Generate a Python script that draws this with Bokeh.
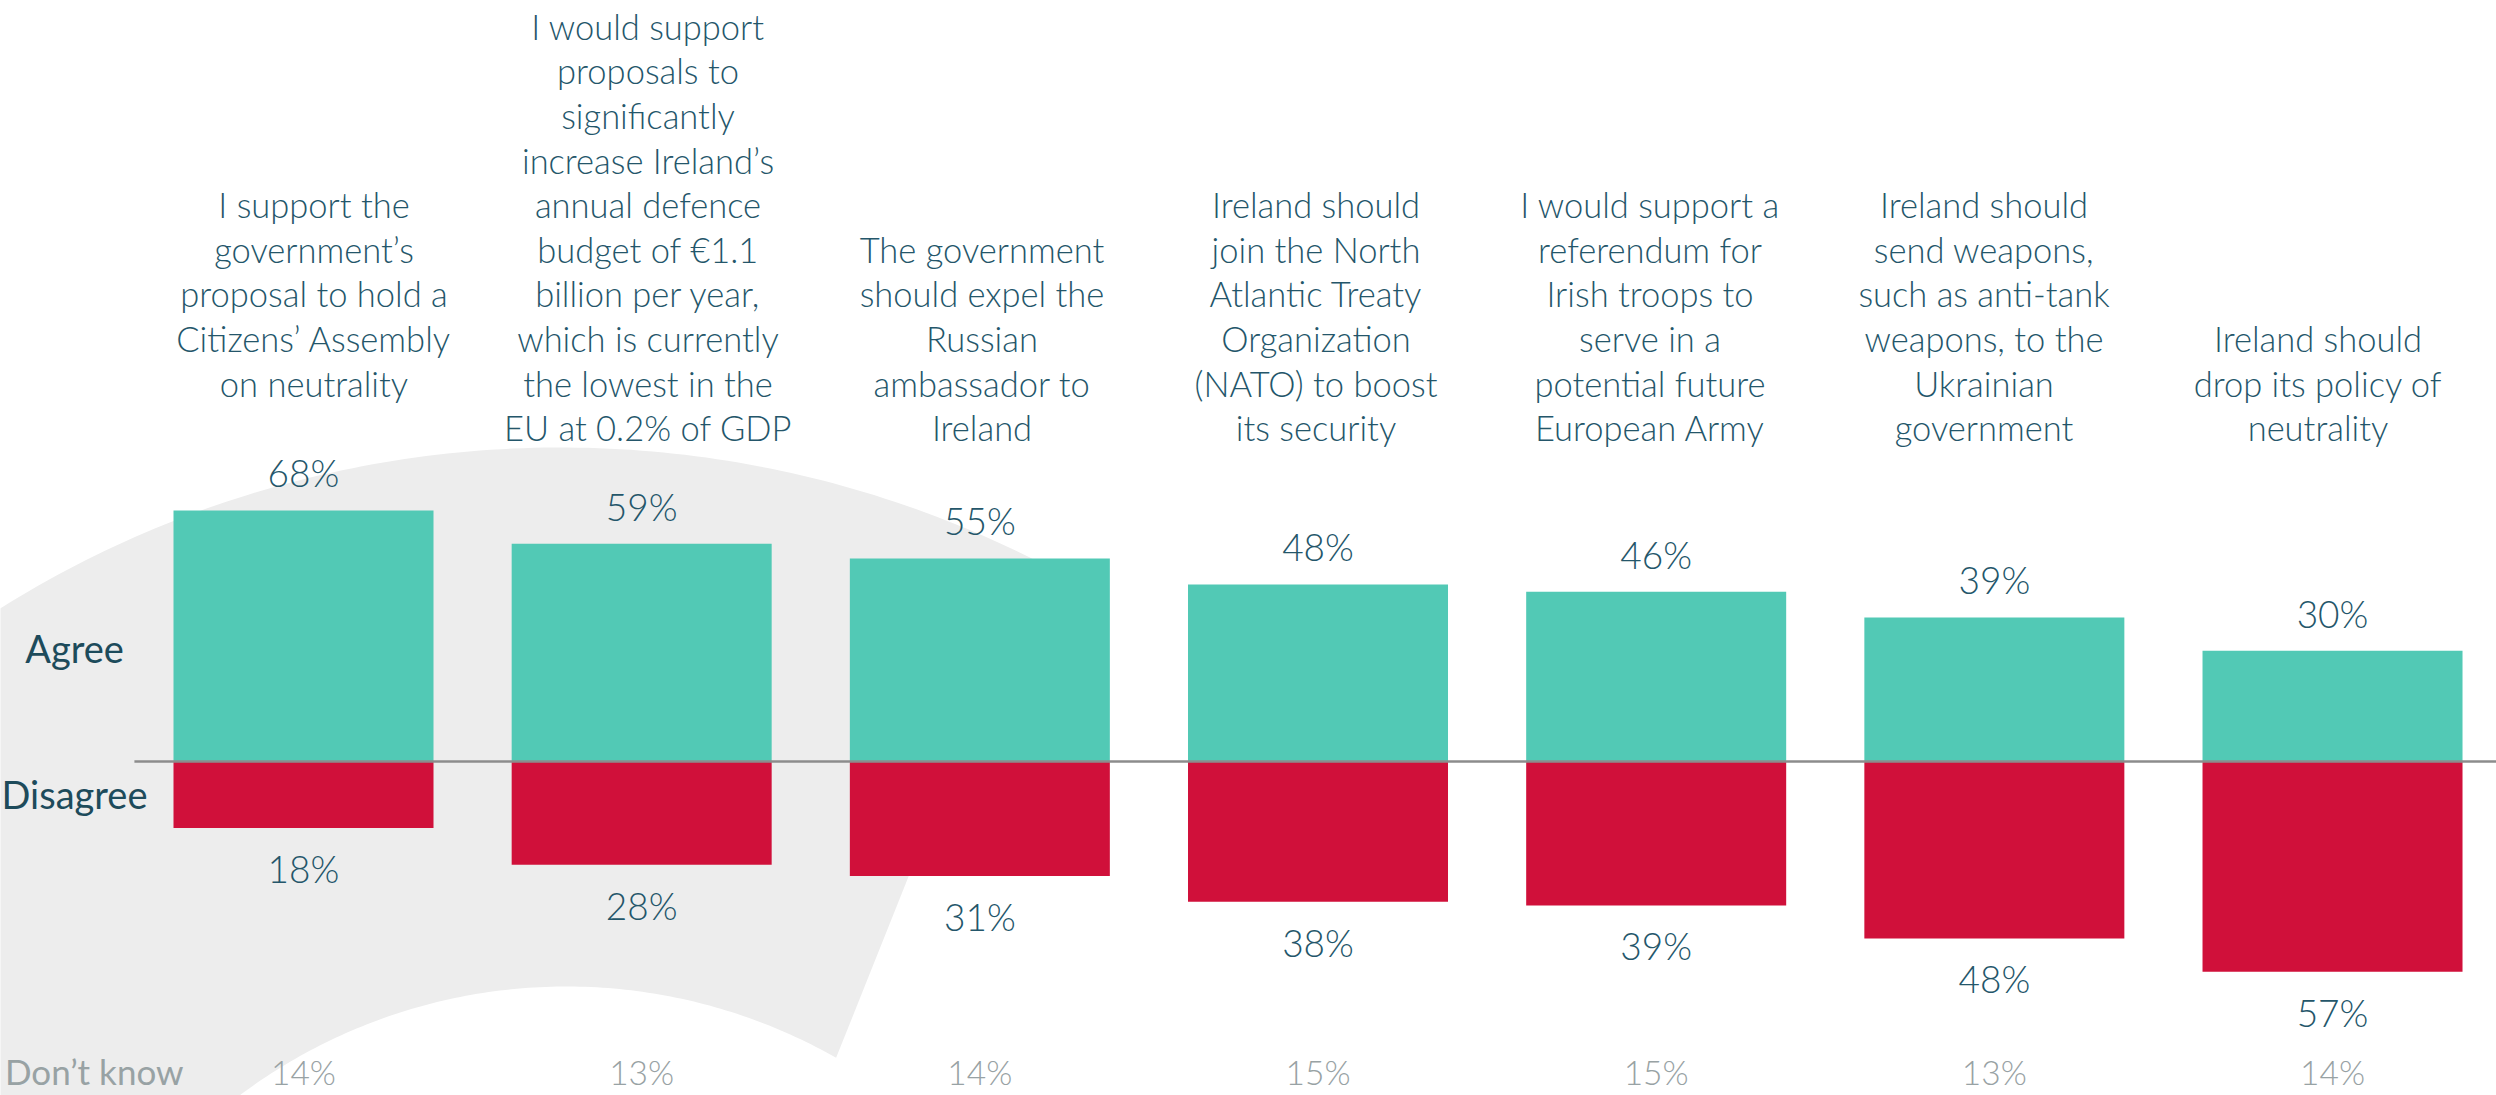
import numpy as np
from bokeh.plotting import figure
from bokeh.models import Range1d, ColumnDataSource
from bokeh.core.properties import value
from bokeh.embed import file_html
from bokeh.resources import INLINE

# ---------------- data ----------------
questions = [
    "I support the\ngovernment’s\nproposal to hold a\nCitizens’ Assembly\non neutrality",
    "I would support\nproposals to\nsignificantly\nincrease Ireland’s\nannual defence\nbudget of €1.1\nbillion per year,\nwhich is currently\nthe lowest in the\nEU at 0.2% of GDP",
    "The government\nshould expel the\nRussian\nambassador to\nIreland",
    "Ireland should\njoin the North\nAtlantic Treaty\nOrganization\n(NATO) to boost\nits security",
    "I would support a\nreferendum for\nIrish troops to\nserve in a\npotential future\nEuropean Army",
    "Ireland should\nsend weapons,\nsuch as anti-tank\nweapons, to the\nUkrainian\ngovernment",
    "Ireland should\ndrop its policy of\nneutrality",
]
agree = [68, 59, 55, 48, 46, 39, 30]
disagree = [18, 28, 31, 38, 39, 48, 57]
dont_know = [14, 13, 14, 15, 15, 13, 14]
row_labels = ["Agree", "Disagree", "Don’t know"]

# ---------------- layout / style ----------------
W, H = 2496, 1095
MARGIN = 0
CAT0 = 303.0        # page x of first category centre
STEP = 338.17       # page px per category
Q0, QSTEP = 313.5, 334.0   # page x of question-text columns
ZERO = 761.0        # page y of the zero line
PPP = 3.69          # page px per percentage point
LINE = 44.6         # question line spacing (px)
q_lift = [1, 0, 0, 0, 0, 0, 0]   # question block raised by n lines
BASE_K = 0.37       # baseline correction (fraction of font size)

TEAL = "#52C9B5"
RED = "#D0103A"
TXT = "#24566A"
DARK = "#1D4B5B"
GREY_TXT = "#98A2A4"
BG_SHAPE = "#EDEDED"
LIGHT = value("'Lato Light', Lato")
REG = value("Lato")

FS_Q, FS_V, FS_DK, FS_ROW, FS_DKL = 34.5, 37, 33.5, 38, 35


def dx(px):
    return (px - CAT0) / STEP


def dy(py):
    return (ZERO - py) / PPP


def base(py, fs):
    """data y for a text whose baseline should sit at page y=py"""
    return dy(py - BASE_K * fs)


p = figure(width=W, height=H, output_backend="svg", toolbar_location=None,
           x_axis_location=None, y_axis_location=None, min_border=0,
           x_range=Range1d(dx(MARGIN), dx(MARGIN + W)),
           y_range=Range1d(dy(MARGIN + H), dy(MARGIN)))
p.grid.visible = False
p.outline_line_color = None
p.background_fill_color = "white"
p.border_fill_color = "white"

# ---------------- decorative grey arc band ----------------
oc, R = (560.0, 1503.0), 1056.0
ic, r = (566.0, 1531.0), 545.0
t_out = np.radians(np.linspace(63.3, 180, 200))
t_in = np.radians(np.linspace(180, 60.35, 200))
bx = np.concatenate([oc[0] + R * np.cos(t_out), ic[0] + r * np.cos(t_in)])
by = np.concatenate([oc[1] - R * np.sin(t_out), ic[1] - r * np.sin(t_in)])
p.patch(dx(bx), dy(by), fill_color=BG_SHAPE, line_color=None)

# ---------------- bars ----------------
idx = list(range(len(agree)))
neg = [-d for d in disagree]
src = ColumnDataSource(dict(x=idx, agree=agree, neg=neg))
bw = 260 / STEP
p.vbar(x="x", top="agree", bottom=0, width=bw, source=src,
       fill_color=TEAL, line_color=None)
p.vbar(x="x", top=0, bottom="neg", width=bw, source=src,
       fill_color=RED, line_color=None)

# zero line
p.segment(x0=[-0.5], y0=[0], x1=[6.5], y1=[0], line_color="#8C8C8C", line_width=2.5)

# ---------------- value labels ----------------
p.text(x=idx, y=[a + (24 + BASE_K * FS_V) / PPP for a in agree],
       text=[f"{a}%" for a in agree],
       text_align="center", text_baseline="alphabetic", text_color=TXT,
       text_font=LIGHT, text_font_size=f"{FS_V}px")
p.text(x=idx, y=[-d - (54 - BASE_K * FS_V) / PPP for d in disagree],
       text=[f"{d}%" for d in disagree],
       text_align="center", text_baseline="alphabetic", text_color=TXT,
       text_font=LIGHT, text_font_size=f"{FS_V}px")
p.text(x=idx, y=[base(1084, FS_DK)] * len(idx), text=[f"{k}%" for k in dont_know],
       text_align="center", text_baseline="alphabetic", text_color=GREY_TXT,
       text_font=LIGHT, text_font_size=f"{FS_DK}px")

# ---------------- question labels ----------------
qx, qy, qt = [], [], []
for i, q in enumerate(questions):
    lines = q.split("\n")
    last_base = 440.0 - q_lift[i] * LINE
    n = len(lines)
    for j, ln in enumerate(lines):
        qx.append(dx(Q0 + i * QSTEP))
        qy.append(base(last_base - (n - 1 - j) * LINE, FS_Q))
        qt.append(ln)
p.text(x=qx, y=qy, text=qt, text_align="center", text_baseline="alphabetic",
       text_color=TXT, text_font=LIGHT, text_font_size=f"{FS_Q}px")

# ---------------- row labels ----------------
p.text(x=[dx(74), dx(74)], y=[base(662, FS_ROW), base(808, FS_ROW)], text=row_labels[:2],
       text_align="center", text_baseline="alphabetic", text_color=DARK,
       text_font=REG, text_font_size=f"{FS_ROW}px")
p.text(x=[dx(183)], y=[base(1083, FS_DKL)], text=[row_labels[2]],
       text_align="right", text_baseline="alphabetic", text_color=GREY_TXT,
       text_font=REG, text_font_size=f"{FS_DKL}px")

open("out.html", "w").write(file_html(p, INLINE))
